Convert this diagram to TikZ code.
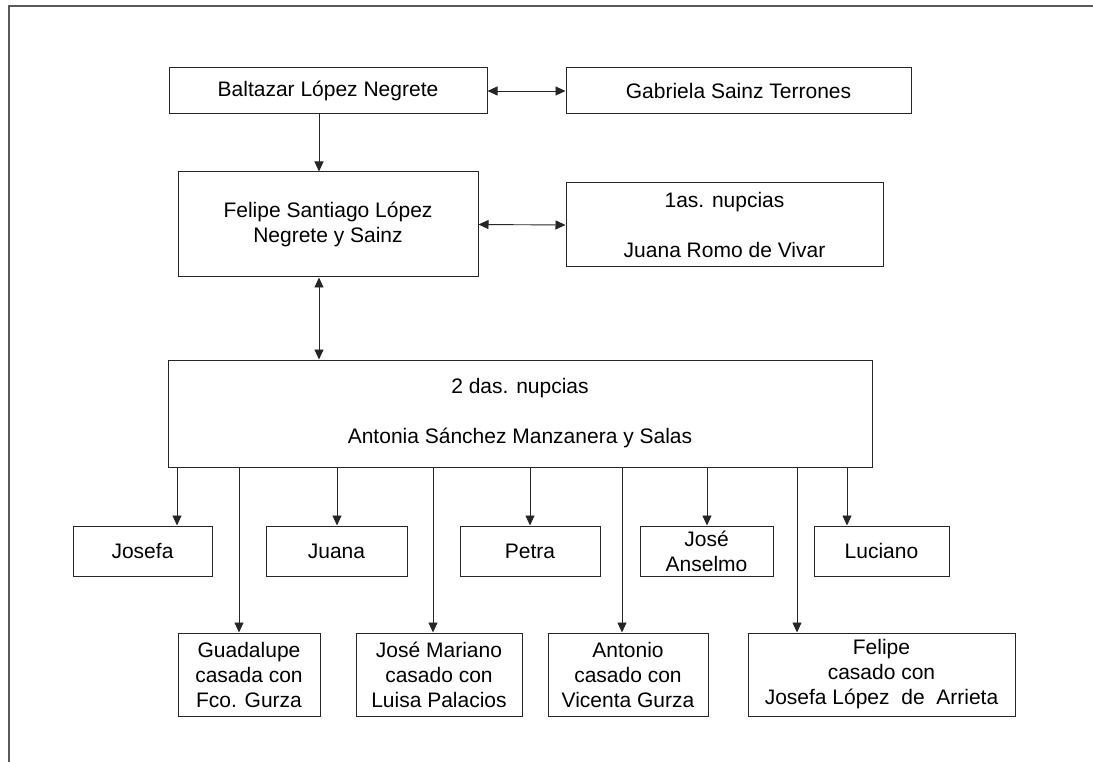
\documentclass[tikz,border=0pt]{standalone}
\usepackage{fontspec}
\setmainfont{Liberation Sans}
\usetikzlibrary{arrows.meta}
\tikzset{
  pbox/.style={draw=black!85, line width=1pt, align=center, inner sep=2pt,
    font=\fontsize{21}{25}\selectfont},
  arr/.style={-{Triangle[length=10pt,width=9pt]}, line width=0.9pt, draw=black!85},
  darr/.style={{Triangle[length=10pt,width=9pt]}-{Triangle[length=10pt,width=9pt]}, line width=0.9pt, draw=black!85},
}
\begin{document}
\begin{tikzpicture}[x=1pt,y=-1pt]
	\useasboundingbox (0,0) rectangle (1093,762);
	% marco
	\draw[line width=1.5pt, black!65] (9,762) -- (9,6) -- (1093,6);
	%
	\node[pbox, minimum width=318, minimum height=46] (balt) at (328,91) {Baltazar López Negrete};
	\node[pbox, minimum width=345, minimum height=46] (gabr) at (738.5,91) {Gabriela Sainz Terrones};
	\node[pbox, minimum width=300, minimum height=105] (feli) at (328,224.5) {Felipe Santiago López\\Negrete y Sainz};
	\node[pbox, minimum width=317, minimum height=84] (nup1) at (724.5,225) {1as. nupcias\\[25pt]Juana Romo de Vivar};
	\node[pbox, minimum width=704, minimum height=107] (nup2) at (520,413.5) {2 das. nupcias\\[25pt]Antonia Sánchez Manzanera y Salas};
	%
	\node[pbox, minimum width=139, minimum height=50] (josefa) at (142.5,551) {Josefa};
	\node[pbox, minimum width=141, minimum height=50] (juana) at (336.5,551) {Juana};
	\node[pbox, minimum width=140, minimum height=50] (petra) at (530,551) {Petra};
	\node[pbox, minimum width=133, minimum height=50] (anselmo) at (706.5,551) {José\\Anselmo};
	\node[pbox, minimum width=135, minimum height=50] (luciano) at (881.5,551) {Luciano};
	%
	\node[pbox, minimum width=142, minimum height=83] (guada) at (249,674.5) {Guadalupe\\casada con\\Fco. Gurza};
	\node[pbox, minimum width=166, minimum height=83] (mariano) at (439,674.5) {José Mariano\\casado con\\Luisa Palacios};
	\node[pbox, minimum width=160, minimum height=83] (antonio) at (628,674.5) {Antonio\\casado con\\Vicenta Gurza};
	\node[pbox, minimum width=267, minimum height=83] (felipe) at (881.5,674.5) {Felipe\\casado con\\Josefa López~ de~ Arrieta};
	%
	\draw[darr] (balt.east) -- (gabr.west);
	\draw[arr] (balt.south -| 319,0) -- (feli.north -| 319,0);
	\draw[darr] (feli.east) -- (nup1.west);
	\draw[darr] (feli.south -| 319,0) -- (nup2.north -| 319,0);
	%
	\foreach \x/\n in {177/josefa, 337/juana, 530/petra, 707/anselmo, 847/luciano,
	                   239/guada, 433/mariano, 622/antonio, 797/felipe}
	  \draw[arr] (nup2.south -| \x,0) -- (\n.north -| \x,0);
\end{tikzpicture}
\end{document}
